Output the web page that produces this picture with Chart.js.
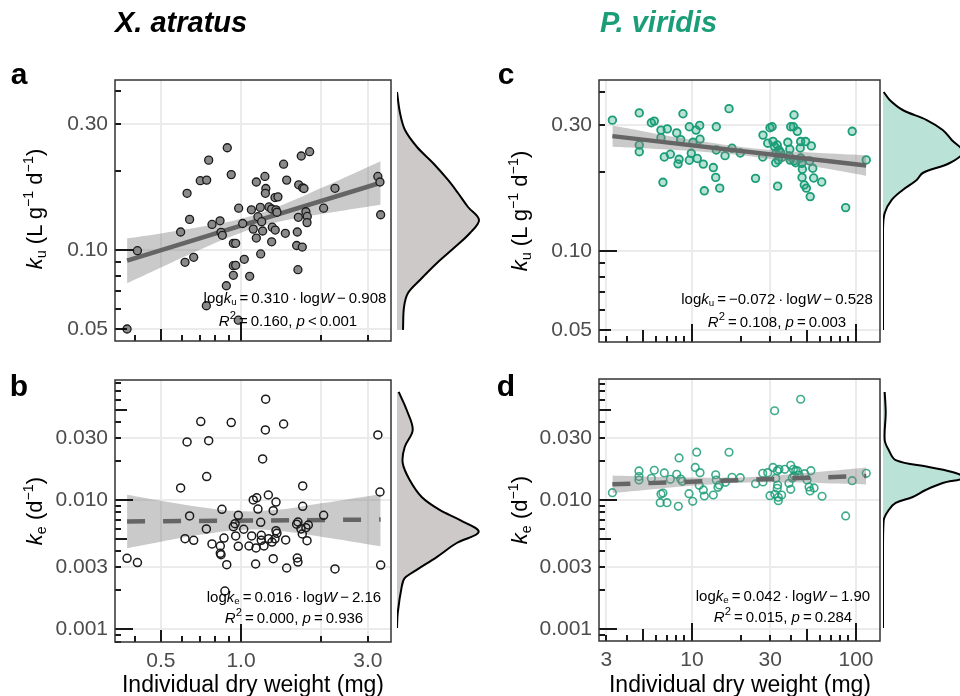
<!DOCTYPE html>
<html>
<head>
<meta charset="utf-8">
<script src="https://cdn.jsdelivr.net/npm/chart.js@4.4.0/dist/chart.umd.min.js"></script>
<style>
  html, body { margin: 0; padding: 0; background: #fff; overflow: hidden; }
  #wrap { position: relative; width: 960px; height: 696px; font-family: "Liberation Sans", Arial, sans-serif; }
  #wrap canvas { position: absolute; left: 0; top: 0; }
  .t { position: absolute; white-space: nowrap; line-height: 1; transform: translate(-50%, -50%); color: #000; }
  .t sub, .t sup { font-size: 0.65em; line-height: 0; }
  .t sub { vertical-align: -0.3em; }
  .t sup { vertical-align: 0.6em; }
  .rot { transform: translate(-50%, -50%) rotate(-90deg); }
  .eq sup { font-size: 0.75em; }
</style>
</head>
<body>
<div id="wrap"></div>
<script>
// ---- data ----

// X. atratus, uptake rate ku vs dry weight (mg)
const atratusKuW = [0.373, 0.408, 0.616, 0.664, 0.593, 0.641, 0.627, 0.703, 0.743, 0.756,
    0.888, 0.919, 0.778, 0.834, 0.841, 0.851, 0.936, 0.955, 0.936, 0.955,
    0.936, 0.881, 0.741, 0.977, 0.98, 1.015, 1.029, 1.078, 1.094, 1.142,
    1.23, 1.24, 1.235, 1.182, 1.158, 1.196, 1.112, 1.206, 1.142, 1.186,
    1.274, 1.304, 1.342, 1.377, 1.354, 1.365, 1.311, 1.345, 1.304, 1.446,
    1.485, 1.468, 1.628, 1.643, 1.619, 1.70, 1.637, 1.648, 1.706, 1.725,
    1.685, 1.812, 1.754, 1.775, 1.771, 2.045, 2.256, 3.27, 3.33, 3.35];
const atratusKu = [0.0502, 0.0994, 0.0898, 0.0938, 0.117, 0.1306, 0.164, 0.183, 0.184, 0.219,
    0.244, 0.193, 0.125, 0.129, 0.1167, 0.1137, 0.106, 0.106, 0.0872, 0.0875,
    0.0802, 0.0732, 0.0615, 0.0542, 0.144, 0.126, 0.0922, 0.0795, 0.142, 0.181,
    0.190, 0.171, 0.164, 0.145, 0.1337, 0.128, 0.120, 0.118, 0.111, 0.0966,
    0.1456, 0.143, 0.158, 0.159, 0.142, 0.139, 0.122, 0.119, 0.1074, 0.2114,
    0.184, 0.1157, 0.117, 0.133, 0.104, 0.1026, 0.0842, 0.1766, 0.172, 0.171,
    0.227, 0.2357, 0.1396, 0.134, 0.127, 0.144, 0.1713, 0.190, 0.181, 0.136];

// X. atratus, elimination rate ke
const atratusKeW = [0.373, 0.408, 0.593, 0.627, 0.706, 0.756, 0.743, 0.919, 1.238, 1.235,
    1.446, 1.206, 3.27, 3.33, 3.35, 0.641, 0.616, 0.664, 0.741, 0.778,
    0.836, 0.836, 0.841, 0.848, 0.863, 0.884, 0.936, 0.950, 0.977, 0.955,
    0.977, 1.024, 1.112, 1.146, 1.158, 1.186, 1.097, 1.072, 1.139, 1.192,
    1.192, 1.22, 1.135, 1.267, 1.354, 1.322, 1.271, 1.308, 1.354, 1.365,
    1.342, 1.322, 1.472, 1.485, 1.637, 1.706, 1.706, 1.619, 1.681, 1.70,
    1.771, 1.754, 1.791, 1.628, 1.637, 2.045, 2.256, 0.87];
const atratusKe = [0.00353, 0.00327, 0.01239, 0.0282, 0.0405, 0.0288, 0.0152, 0.0398, 0.0604, 0.0349,
    0.0388, 0.0208, 0.0319, 0.01153, 0.00313, 0.00752, 0.00501, 0.00487, 0.00596, 0.00456,
    0.0044, 0.00386, 0.00377, 0.00847, 0.00507, 0.00315, 0.00621, 0.00655, 0.0076, 0.00526,
    0.00437, 0.00593, 0.0100, 0.0104, 0.0085, 0.00671, 0.00526, 0.0044, 0.00425, 0.00532,
    0.00487, 0.0044, 0.00319, 0.01093, 0.00964, 0.00826, 0.0050, 0.00472, 0.00578, 0.00552,
    0.0050, 0.00351, 0.0049, 0.00297, 0.00675, 0.01285, 0.00893, 0.00649, 0.00596, 0.00545,
    0.00484, 0.0061, 0.0064, 0.00355, 0.0033, 0.0076, 0.00292, 0.00197];

// P. viridis, uptake rate ku
const viridisKuW = [3.27, 4.77, 4.77, 4.77, 5.65, 5.89, 6.47, 6.47, 7.07, 6.78,
    7.38, 6.65, 8.07, 8.53, 8.34, 8.22, 8.81, 9.63, 9.63, 9.9,
    10.14, 10.58, 11.14, 11.19, 10.77, 11.72, 13.49, 13.95, 11.89, 14.07,
    14.07, 14.76, 16.82, 17.54, 15.9, 19.7, 24.4, 27.0, 27.1, 29.9,
    30.8, 28.97, 31.2, 31.9, 33.1, 33.9, 32.5, 34.7, 32.4, 33.6,
    33.3, 38.4, 40.0, 41.5, 41.9, 43.9, 39.5, 39.1, 41.9, 39.7,
    46.0, 49.3, 53.4, 45.7, 46.0, 42.9, 46.7, 52.2, 47.1, 54.5,
    46.9, 55.2, 61.8, 48.4, 49.8, 52.6, 94.8, 115.5, 35.4, 86.5];
const viridisKu = [0.313, 0.3334, 0.252, 0.2377, 0.306, 0.3105, 0.287, 0.2685, 0.29, 0.227,
    0.2325, 0.182, 0.28, 0.264, 0.2225, 0.2138, 0.331, 0.2955, 0.2206, 0.2344,
    0.258, 0.287, 0.299, 0.265, 0.224, 0.2133, 0.207, 0.190, 0.169, 0.2955,
    0.2413, 0.173, 0.346, 0.245, 0.2297, 0.235, 0.1884, 0.227, 0.2748, 0.293,
    0.2955, 0.256, 0.26, 0.2485, 0.252, 0.2413, 0.2344, 0.236, 0.2158, 0.221,
    0.176, 0.258, 0.2955, 0.2955, 0.3275, 0.284, 0.2428, 0.229, 0.2193, 0.221,
    0.2597, 0.2597, 0.25, 0.2455, 0.225, 0.2158, 0.2147, 0.2193, 0.204, 0.2057,
    0.19, 0.189, 0.1825, 0.1778, 0.173, 0.1607, 0.284, 0.2213, 0.2265, 0.146];

// P. viridis, elimination rate ke
const viridisKeW = [3.27, 4.75, 4.75, 4.75, 5.65, 5.89, 6.78, 6.47, 6.65, 6.4,
    7.04, 7.38, 8.07, 8.34, 8.25, 8.53, 8.73, 9.59, 10.1, 10.47,
    10.68, 11.19, 11.07, 11.72, 11.89, 13.49, 13.95, 14.07, 14.4, 14.66,
    16.0, 16.82, 17.54, 19.7, 24.4, 27.0, 27.1, 29.9, 28.97, 31.2,
    31.9, 33.1, 33.9, 32.4, 33.3, 33.1, 32.0, 33.6, 35.2, 33.6,
    36.8, 40.0, 41.5, 42.9, 44.1, 46.0, 42.0, 45.0, 48.7, 53.1,
    39.0, 40.9, 40.0, 50.3, 51.7, 52.5, 55.5, 62.1, 86.5, 94.8, 115.5];
const viridisKe = [0.0114, 0.0168, 0.0152, 0.01429, 0.01472, 0.017, 0.0162, 0.01113, 0.01133, 0.00953,
    0.00953, 0.01446, 0.0158, 0.0212, 0.00893, 0.01455, 0.01396, 0.0112, 0.00977, 0.0179,
    0.0235, 0.0163, 0.013, 0.01196, 0.01074, 0.01093, 0.0157, 0.01429, 0.01253, 0.01306,
    0.0137, 0.02344, 0.015, 0.0149, 0.01337, 0.0161, 0.0138, 0.0108, 0.0163, 0.0179,
    0.0492, 0.01687, 0.0173, 0.01472, 0.01306, 0.01233, 0.01107, 0.0105, 0.01093, 0.00988,
    0.0173, 0.0186, 0.0173, 0.01687, 0.0168, 0.0604, 0.0154, 0.0156, 0.016, 0.01687,
    0.01346, 0.01483, 0.0121, 0.01429, 0.01262, 0.01175, 0.0124, 0.01069, 0.00752, 0.01413, 0.0161];

// fitted lines and 95% bands
const fitAtratusKuW = [0.373, 3.35];
const fitAtratusKu = [0.0911, 0.1798];
const bandAtratusW = [0.373, 0.5, 0.7, 1.0, 1.4, 2.0, 3.35];
const bandAtratusKuHi = [0.1107, 0.1156, 0.1221, 0.1313, 0.1469, 0.1716, 0.2170];
const bandAtratusKuLo = [0.0748, 0.0859, 0.1003, 0.1163, 0.1281, 0.1368, 0.1485];

const fitAtratusKeW = [0.373, 3.35];
const fitAtratusKe = [0.00681, 0.00705];
const bandAtratusKeHi = [0.01097, 0.00985, 0.00881, 0.00817, 0.00842, 0.00942, 0.0111];
const bandAtratusKeLo = [0.00423, 0.00475, 0.00537, 0.00586, 0.00575, 0.00519, 0.00438];

const fitViridisKuW = [3.27, 115.5];
const fitViridisKu = [0.2723, 0.2106];
const bandViridisW = [3.27, 5, 10, 20, 40, 70, 115.5];
const bandViridisKuHi = [0.2985, 0.2844, 0.2637, 0.2479, 0.2388, 0.2340, 0.2304];
const bandViridisKuLo = [0.2484, 0.2452, 0.2392, 0.2303, 0.2164, 0.2038, 0.1925];

const fitViridisKeW = [3.27, 115.5];
const fitViridisKe = [0.01323, 0.01537];
const bandViridisKeHi = [0.01547, 0.01523, 0.01492, 0.01495, 0.01582, 0.01685, 0.01789];
const bandViridisKeLo = [0.01132, 0.01191, 0.01289, 0.01363, 0.01366, 0.01344, 0.01320];

// marginal densities (level on the y axis, relative density)
const densAtratusKuLevel = [0.3968, 0.3304, 0.2847, 0.2456, 0.2136, 0.1842, 0.1644, 0.1455,
    0.1299, 0.1160, 0.1026, 0.0893, 0.0770, 0.0687, 0.0608, 0.0498];
const densAtratusKu = [0, 0.15, 0.4, 1.0, 1.8, 2.55, 3.05, 3.55, 4.1, 3.65, 2.9, 2.0, 1.15, 0.55, 0.35, 0.3];

const densAtratusKeLevel = [0.0688, 0.0498, 0.0349, 0.02576, 0.01935, 0.01429, 0.01055, 0.00837,
    0.0070, 0.00565, 0.00464, 0.00361, 0.00287, 0.00248, 0.00212, 0.00133, 0.00102];
const densAtratusKe = [0.085, 0.485, 0.785, 0.385, 0.285, 0.635, 1.235, 2.135,
    3.135, 4.085, 2.985, 1.985, 0.985, 0.385, 0.235, 0.035, 0];

const densViridisKuLevel = [0.4002, 0.3733, 0.3420, 0.3133, 0.2872, 0.2633, 0.2371, 0.2154,
    0.1974, 0.1857, 0.1702, 0.1561, 0.1393, 0.1201, 0.0502];
const densViridisKu = [0.035, 0.335, 0.985, 2.185, 2.985, 3.435, 4.0, 3.335,
    1.985, 1.685, 0.985, 0.435, 0.085, 0, 0];

const densViridisKeLevel = [0.0688, 0.0472, 0.0292, 0.0244, 0.0204, 0.0180, 0.0162, 0.0148,
    0.01354, 0.01195, 0.01055, 0.00948, 0.00837, 0.0070, 0.00432, 0.00102];
const densViridisKe = [0.085, 0.135, 0.085, 0.285, 0.635, 2.285, 3.635, 4.05,
    2.985, 2.135, 1.485, 0.635, 0.285, 0.035, 0, 0];

// axis breaks
const atratusXTicks = [0.5, 1, 2, 3];
const atratusXLabels = ['0.5', '1.0', '', '3.0'];
const viridisXTicks = [3, 10, 30, 100];
const viridisXLabels = ['3', '10', '30', '100'];
const kuTicks = [0.05, 0.1, 0.3];
const kuLabels = ['0.05', '0.10', '0.30'];
const keTicks = [0.001, 0.003, 0.01, 0.03];
const keLabels = ['0.001', '0.003', '0.010', '0.030'];

// ---- drawing ----
const FONT = '"Liberation Sans", Arial, sans-serif';
const GREEN = '#1B9E77';
const YW = 70;   // width kept for the y axis
const XH = 40;   // height kept for the x axis
const PXU = 20;  // pixels per density unit

const wrap = document.getElementById('wrap');

function addCanvas() {
    const c = document.createElement('canvas');
    c.width = 960;
    c.height = 696;
    c.style.width = '960px';
    c.style.height = '696px';
    wrap.appendChild(c);
    return c;
}

function pairs(xs, ys) {
    return xs.map((x, i) => ({ x: x, y: ys[i] }));
}

// annotation_logticks style marks + panel border
function logMarks(min, max) {
    const out = [];
    for (let e = Math.floor(Math.log10(min)); e <= Math.ceil(Math.log10(max)); e++) {
        for (let m = 1; m <= 9; m++) {
            const v = m * Math.pow(10, e);
            if (v >= min && v <= max) out.push({ v: v, len: m === 1 ? 18 : (m === 5 ? 12 : 6) });
        }
    }
    return out;
}

const panelFrame = {
    id: 'panelFrame',
    afterDraw(chart) {
        const { ctx, chartArea: a, scales } = chart;
        ctx.save();
        ctx.strokeStyle = '#000';
        ctx.lineWidth = 1.8;
        logMarks(scales.y.min, scales.y.max).forEach(t => {
            const y = Math.round(scales.y.getPixelForValue(t.v));
            ctx.beginPath();
            ctx.moveTo(a.left, y);
            ctx.lineTo(a.left + t.len, y);
            ctx.stroke();
        });
        logMarks(scales.x.min, scales.x.max).forEach(t => {
            const x = Math.round(scales.x.getPixelForValue(t.v));
            ctx.beginPath();
            ctx.moveTo(x, a.bottom);
            ctx.lineTo(x, a.bottom - t.len);
            ctx.stroke();
        });
        ctx.strokeStyle = '#333';
        ctx.lineWidth = 1.5;
        ctx.strokeRect(a.left, a.top, a.right - a.left, a.bottom - a.top);
        ctx.restore();
    }
};

// log axis with fixed limits and hand-picked breaks
function logAxis(min, max, breaks, labels, show, fitSize) {
    return {
        type: 'logarithmic', min: min, max: max, bounds: 'data',
        afterFit: fitSize,
        afterBuildTicks: s => {
            s.ticks = breaks.map(v => ({ value: v }));
            s.min = min;
            s.max = max;
        },
        ticks: {
            display: show, autoSkip: false, maxRotation: 0, padding: 7,
            color: '#4d4d4d', font: { family: FONT, size: 21 },
            callback: (v, i) => labels[i]
        },
        grid: { color: '#ebebeb', lineWidth: 2, drawTicks: false },
        border: { display: false }
    };
}

function drawPanel(p) {
    const top = p.smoothOnTop;
    new Chart(addCanvas(), {
        type: 'scatter',
        data: {
            datasets: [
                {
                    data: pairs(p.bandX, p.bandHi),
                    showLine: true, fill: '+1', tension: 0.4,
                    backgroundColor: 'rgba(128,128,128,0.42)',
                    borderWidth: 0, pointRadius: 0,
                    order: top ? 1 : 2
                },
                {
                    data: pairs(p.bandX, p.bandLo),
                    showLine: true, fill: false, tension: 0.4,
                    borderWidth: 0, pointRadius: 0,
                    order: top ? 2 : 3
                },
                {
                    data: pairs(p.fitX, p.fitY),
                    showLine: true, fill: false,
                    borderColor: '#656565', borderWidth: 4.5,
                    borderDash: p.dashed ? [18, 18] : [],
                    pointRadius: 0,
                    order: top ? 0 : 1
                },
                {
                    data: pairs(p.xs, p.ys),
                    pointRadius: p.radius,
                    pointBackgroundColor: p.pointFill,
                    pointBorderColor: p.pointStroke,
                    pointBorderWidth: p.pointWidth,
                    order: top ? 3 : 0
                }
            ]
        },
        options: {
            responsive: false,
            animation: false,
            devicePixelRatio: 1,
            events: [],
            layout: {
                padding: {
                    left: p.area.left - YW,
                    right: 960 - p.area.right,
                    top: p.area.top,
                    bottom: 696 - p.area.bottom - XH
                }
            },
            plugins: { legend: { display: false }, tooltip: { enabled: false } },
            scales: {
                x: logAxis(p.xMin, p.xMax, p.xTicks, p.xLabels, p.showX, s => { s.height = XH; }),
                y: logAxis(p.yMin, p.yMax, p.yTicks, p.yLabels, true, s => { s.width = YW; })
            }
        },
        plugins: [panelFrame]
    });
}

function drawDensity(d) {
    new Chart(addCanvas(), {
        type: 'line',
        data: {
            datasets: [{
                data: pairs(d.w, d.level),
                borderColor: '#000', borderWidth: 2,
                backgroundColor: d.fill, fill: 'origin',
                pointRadius: 0, tension: 0.35
            }]
        },
        options: {
            indexAxis: 'y',
            responsive: false,
            animation: false,
            devicePixelRatio: 1,
            events: [],
            layout: { padding: { left: d.left, right: 0, top: d.top, bottom: 696 - d.bottom } },
            plugins: { legend: { display: false }, tooltip: { enabled: false } },
            scales: {
                x: { type: 'linear', min: 0, max: (960 - d.left) / PXU, display: false },
                y: {
                    type: 'logarithmic', min: d.yMin, max: d.yMax, bounds: 'data', display: false,
                    afterBuildTicks: s => { s.min = d.yMin; s.max = d.yMax; }
                }
            }
        }
    });
}

const areaA = { left: 115, right: 391, top: 80, bottom: 341 };
const areaB = { left: 115, right: 391, top: 380, bottom: 642 };
const areaC = { left: 599, right: 880, top: 80, bottom: 342 };
const areaD = { left: 599, right: 880, top: 379, bottom: 641 };

drawPanel({
    area: areaA, xs: atratusKuW, ys: atratusKu,
    fitX: fitAtratusKuW, fitY: fitAtratusKu,
    bandX: bandAtratusW, bandHi: bandAtratusKuHi, bandLo: bandAtratusKuLo,
    xMin: 0.336, xMax: 3.664, yMin: 0.04521, yMax: 0.4406,
    xTicks: atratusXTicks, xLabels: atratusXLabels, showX: false,
    yTicks: kuTicks, yLabels: kuLabels,
    radius: 4, pointFill: '#8a8a8a', pointStroke: '#1a1a1a', pointWidth: 1.3,
    dashed: false, smoothOnTop: false
});
drawPanel({
    area: areaB, xs: atratusKeW, ys: atratusKe,
    fitX: fitAtratusKeW, fitY: fitAtratusKe,
    bandX: bandAtratusW, bandHi: bandAtratusKeHi, bandLo: bandAtratusKeLo,
    xMin: 0.336, xMax: 3.664, yMin: 0.000793, yMax: 0.0851,
    xTicks: atratusXTicks, xLabels: atratusXLabels, showX: true,
    yTicks: keTicks, yLabels: keLabels,
    radius: 4, pointFill: 'rgba(0,0,0,0)', pointStroke: '#1a1a1a', pointWidth: 1.5,
    dashed: true, smoothOnTop: false
});
drawPanel({
    area: areaC, xs: viridisKuW, ys: viridisKu,
    fitX: fitViridisKuW, fitY: fitViridisKu,
    bandX: bandViridisW, bandHi: bandViridisKuHi, bandLo: bandViridisKuLo,
    xMin: 2.71, xMax: 140.1, yMin: 0.0452, yMax: 0.4443,
    xTicks: viridisXTicks, xLabels: viridisXLabels, showX: false,
    yTicks: kuTicks, yLabels: kuLabels,
    radius: 3.8, pointFill: 'rgba(27,158,119,0.3)', pointStroke: GREEN, pointWidth: 1.8,
    dashed: false, smoothOnTop: true
});
drawPanel({
    area: areaD, xs: viridisKeW, ys: viridisKe,
    fitX: fitViridisKeW, fitY: fitViridisKe,
    bandX: bandViridisW, bandHi: bandViridisKeHi, bandLo: bandViridisKeLo,
    xMin: 2.71, xMax: 140.1, yMin: 0.000807, yMax: 0.0867,
    xTicks: viridisXTicks, xLabels: viridisXLabels, showX: true,
    yTicks: keTicks, yLabels: keLabels,
    radius: 3.8, pointFill: 'rgba(0,0,0,0)', pointStroke: 'rgba(27,158,119,0.85)', pointWidth: 1.6,
    dashed: true, smoothOnTop: true
});

const grayFill = 'rgba(205,201,201,1)';
const greenFill = 'rgba(27,158,119,0.3)';
drawDensity({ left: 397, top: 80, bottom: 341, yMin: 0.04521, yMax: 0.4406,
    level: densAtratusKuLevel, w: densAtratusKu, fill: grayFill });
drawDensity({ left: 397, top: 380, bottom: 642, yMin: 0.000793, yMax: 0.0851,
    level: densAtratusKeLevel, w: densAtratusKe, fill: grayFill });
drawDensity({ left: 883, top: 80, bottom: 342, yMin: 0.0452, yMax: 0.4443,
    level: densViridisKuLevel, w: densViridisKu, fill: greenFill });
drawDensity({ left: 883, top: 379, bottom: 641, yMin: 0.000807, yMax: 0.0867,
    level: densViridisKeLevel, w: densViridisKe, fill: greenFill });

// ---- text (titles, panel letters, axis titles, fit equations) ----
function label(html, x, y, style, cls) {
    const el = document.createElement('div');
    el.className = 't' + (cls ? ' ' + cls : '');
    el.innerHTML = html;
    el.style.left = x + 'px';
    el.style.top = y + 'px';
    Object.assign(el.style, style || {});
    wrap.appendChild(el);
}

const titleStyle = { fontSize: '29px', fontWeight: 'bold', fontStyle: 'italic', transform: 'translate(0,-50%)' };
label('X. atratus', 115, 22, titleStyle);
label('P. viridis', 600, 22, Object.assign({}, titleStyle, { color: GREEN }));

const letterStyle = { fontSize: '30px', fontWeight: 'bold' };
label('a', 19, 74, letterStyle);
label('b', 19, 386, letterStyle);
label('c', 506, 74, letterStyle);
label('d', 506, 386, letterStyle);

const axStyle = { fontSize: '22px' };
const kuTitle = '<i>k</i><sub>u</sub> (L g<sup>\u22121</sup> d<sup>\u22121</sup>)';
const keTitle = '<i>k</i><sub>e</sub> (d<sup>\u22121</sup>)';
label(kuTitle, 35, 209, axStyle, 'rot');
label(keTitle, 35, 511, axStyle, 'rot');
label(kuTitle, 520, 211, axStyle, 'rot');
label(keTitle, 520, 510, axStyle, 'rot');
const xStyle = { fontSize: '23px' };
label('Individual dry weight (mg)', 253, 684, xStyle);
label('Individual dry weight (mg)', 740, 684, xStyle);

// fit equations (thin spaces around operators, as in plotmath)
const eqStyle = { fontSize: '15px' };
const S = '\u2009';
label('log<i>k</i><sub>u</sub>' + S + '=' + S + '0.310' + S + '\u00b7' + S + 'log<i>W</i>' + S + '\u2212' + S + '0.908', 295, 297, eqStyle, 'eq');
label('<i>R</i><sup>2</sup>' + S + '=' + S + '0.160, <i>p</i>' + S + '&lt;' + S + '0.001', 288, 320, eqStyle, 'eq');
label('log<i>k</i><sub>e</sub>' + S + '=' + S + '0.016' + S + '\u00b7' + S + 'log<i>W</i>' + S + '\u2212' + S + '2.16', 294, 596, eqStyle, 'eq');
label('<i>R</i><sup>2</sup>' + S + '=' + S + '0.000, <i>p</i>' + S + '=' + S + '0.936', 294, 617, eqStyle, 'eq');
label('log<i>k</i><sub>u</sub>' + S + '=' + S + '\u22120.072' + S + '\u00b7' + S + 'log<i>W</i>' + S + '\u2212' + S + '0.528', 777, 298, eqStyle, 'eq');
label('<i>R</i><sup>2</sup>' + S + '=' + S + '0.108, <i>p</i>' + S + '=' + S + '0.003', 777, 321, eqStyle, 'eq');
label('log<i>k</i><sub>e</sub>' + S + '=' + S + '0.042' + S + '\u00b7' + S + 'log<i>W</i>' + S + '\u2212' + S + '1.90', 783, 595, eqStyle, 'eq');
label('<i>R</i><sup>2</sup>' + S + '=' + S + '0.015, <i>p</i>' + S + '=' + S + '0.284', 783, 616, eqStyle, 'eq');
</script>
</body>
</html>
